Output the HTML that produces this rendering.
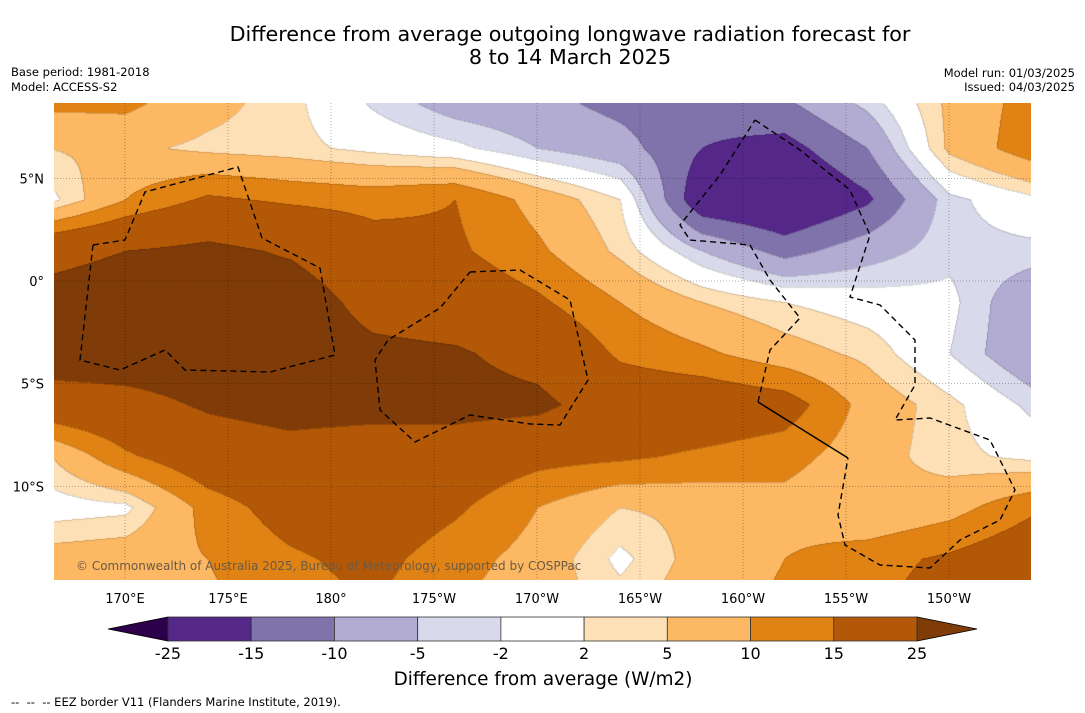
<!DOCTYPE html>
<html><head><meta charset="utf-8"><style>
body{margin:0;background:#fff;width:1085px;height:713px;overflow:hidden;position:relative;font-family:"DejaVu Sans","Liberation Sans",sans-serif}
#map{position:absolute;left:54px;top:103px}
#ov{position:absolute;left:0;top:0}
</style></head><body>
<canvas id="map" width="977" height="477"></canvas>
<svg id="ov" width="1085" height="713" xmlns="http://www.w3.org/2000/svg" font-family="DejaVu Sans, Liberation Sans, sans-serif">
<text x="570" y="41" font-size="20.7" text-anchor="middle">Difference from average outgoing longwave radiation forecast for</text>
<text x="570" y="64" font-size="20.7" text-anchor="middle">8 to 14 March 2025</text>
<text x="11" y="76" font-size="11.5">Base period: 1981-2018</text>
<text x="11" y="91" font-size="11.5">Model: ACCESS-S2</text>
<text x="1075" y="77" font-size="11.5" text-anchor="end">Model run: 01/03/2025</text>
<text x="1075" y="91" font-size="11.5" text-anchor="end">Issued: 04/03/2025</text>
<g id="grid"></g>
<g id="eez" fill="none" stroke="#000" stroke-width="1.4" stroke-dasharray="6,4">
<polyline points="93,245 125,240 145,192 238,167 262,238 320,268 335,355 270,372 185,370 165,350 120,370 80,360 93,245"/>
<polyline points="470,272 520,270 570,300 588,380 560,425 530,424 470,415 415,442 380,410 375,360 388,340 440,308 470,272"/>
<polyline points="755,120 800,150 850,190 870,235 850,297 880,305 915,340 915,385 895,420 930,418 990,440 1015,490 1000,520 960,540 930,568 880,565 845,545 838,515 848,458"/>
<polyline points="758,402 770,350 800,318 770,280 750,245 690,240 680,225 720,175 755,120"/>
<polyline points="758,402 848,458" stroke-dasharray="none"/>
</g>
<text x="76" y="570" font-size="12" fill="#6b5a45">© Commonwealth of Australia 2025, Bureau of Meteorology, supported by COSPPac</text>
<g id="xt" font-size="13" text-anchor="middle"></g>
<g id="yt" font-size="13" text-anchor="end"></g>
<g id="cb"></g>
<text x="543" y="685" font-size="18.4" text-anchor="middle">Difference from average (W/m2)</text>
<text x="11" y="706" font-size="11.5">-- &nbsp;-- &nbsp;-- EEZ border V11 (Flanders Marine Institute, 2019).</text>
</svg>
<script>
// grid longitudes (deg E) and latitudes
const lons=[166,170,174,178,182,186,190,194,198,202,206,210,214];
const lats=[9,6.5,4,1.5,-1,-3.5,-6,-8.5,-11,-13.5,-16];
const row0=[12,12,7,3,-3,-8,-9,-12,-13,-10,-3,6,12];
const row1=[5,6,4,3,1,-1,-5,-8,-15,-17,-10,6,13];
const row2=[0,10,16,14,13,15,8,2,-20,-22,-16,-3,1];
const row3=[22,25,27,24,18,16,11,4,-5,-12,-7,-3,-3];
const row4=[28,30,30,30,22,20,16,10,5,2,0,-1,-9];
const row5=[30,30,30,30,27,26,22,14,11,7,4,-2,-9];
const row6=[20,22,26,28,28,28,27,20,20,18,8,3,-3];
const row7=[4,14,20,22,20,20,17,16,14,12,7,3,1];
const row8=[0,1,12,18,20,16,10,5,6,8,5,8,14];
const row9=[7,8,10,14,17,12,8,1,7,10,13,16,20];
const row10=[8,8,9,12,15,10,7,4,8,11,14,18,26];
const rows=[row0,row1,row2,row3,row4,row5,row6,row7,row8,row9,row10];
const levels=[-25,-15,-10,-5,-2,2,5,10,15,25];
const colors=["#2d004b","#542788","#8073ac","#b2abd2","#d8daeb","#ffffff","#fee0b6","#fdb863","#e08214","#b35806","#7f3b08"];
const levelLabels=["-25","-15","-10","-5","-2","2","5","10","15","25"];
const lonTicks=[170,175,180,185,190,195,200,205,210];
const lonTickLabels=["170°E","175°E","180°","175°W","170°W","165°W","160°W","155°W","150°W"];
const latTicks=[5,0,-5,-10];
const latTickLabels=["5°N","0°","5°S","10°S"];

const X=lon=>125+(lon-170)*20.6;
const Y=lat=>281-lat*20.54;
const NS="http://www.w3.org/2000/svg";
function hex(c){return [1,3,5].map(i=>parseInt(c.substr(i,2),16));}
const rgb=colors.map(hex);
function val(lon,lat){
  let fi=(lon-lons[0])/(lons[1]-lons[0]);
  let fj=(lats[0]-lat)/(lats[0]-lats[1]);
  fi=Math.max(0,Math.min(lons.length-1.001,fi));fj=Math.max(0,Math.min(lats.length-1.001,fj));
  const i=Math.floor(fi),j=Math.floor(fj),a=fi-i,b=fj-j;
  return rows[j][i]*(1-a)*(1-b)+rows[j][i+1]*a*(1-b)+rows[j+1][i]*(1-a)*b+rows[j+1][i+1]*a*b;
}
function bin(v){let k=0;while(k<levels.length&&v>=levels[k])k++;return k;}
const cv=document.getElementById('map'),ctx=cv.getContext('2d');
const img=ctx.createImageData(977,477);
const bins=new Int8Array(977*477);
for(let py=0;py<477;py++)for(let px=0;px<977;px++){
  const lon=170+(px+54-125)/20.6, lat=(281-(py+103))/20.54;
  bins[py*977+px]=bin(val(lon,lat));
}
for(let py=0;py<477;py++)for(let px=0;px<977;px++){
  const k=bins[py*977+px];let c=rgb[k];
  if(px>0&&py>0&&(bins[py*977+px-1]!==k||bins[(py-1)*977+px]!==k))c=c.map(x=>x*0.85);
  const o=(py*977+px)*4;img.data[o]=c[0];img.data[o+1]=c[1];img.data[o+2]=c[2];img.data[o+3]=255;
}
ctx.putImageData(img,0,0);

const g=document.getElementById('grid');
lonTicks.forEach((t,i)=>{
  const l=document.createElementNS(NS,'line');
  l.setAttribute('x1',X(t));l.setAttribute('x2',X(t));l.setAttribute('y1',103);l.setAttribute('y2',580);
  l.setAttribute('stroke','#000');l.setAttribute('stroke-width','0.5');l.setAttribute('stroke-dasharray','1,2');l.setAttribute('opacity','0.6');
  
  
  g.appendChild(l);
  const tx=document.createElementNS(NS,'text');
  tx.setAttribute('x',X(t));tx.setAttribute('y',603);tx.textContent=lonTickLabels[i];
  
  
  document.getElementById('xt').appendChild(tx);
});
latTicks.forEach((t,i)=>{
  const l=document.createElementNS(NS,'line');
  l.setAttribute('x1',54);l.setAttribute('x2',1031);l.setAttribute('y1',Y(t));l.setAttribute('y2',Y(t));
  l.setAttribute('stroke','#000');l.setAttribute('stroke-width','0.5');l.setAttribute('stroke-dasharray','1,2');l.setAttribute('opacity','0.6');
  
  
  g.appendChild(l);
  const tx=document.createElementNS(NS,'text');
  tx.setAttribute('x',44);tx.setAttribute('y',Y(t)+5);tx.textContent=latTickLabels[i];
  
  
  document.getElementById('yt').appendChild(tx);
});
// colorbar
const cb=document.getElementById('cb');
const cx0=168,cw=(917-168)/(levels.length-1),cy=617,ch=24;
function add(tag,attrs,name){const e=document.createElementNS(NS,tag);for(const k in attrs)e.setAttribute(k,attrs[k]);
  
  
  cb.appendChild(e);return e;}
add('polygon',{points:`108,629 ${cx0},${cy} ${cx0},${cy+ch}`,fill:colors[0],stroke:'#000','stroke-width':0.8},'colorbar-min-arrow');
add('polygon',{points:`977,629 917,${cy} 917,${cy+ch}`,fill:colors[colors.length-1],stroke:'#000','stroke-width':0.8},'colorbar-max-arrow');
for(let i=0;i<levels.length-1;i++){
  add('rect',{x:cx0+i*cw,y:cy,width:cw,height:ch,fill:colors[i+1],stroke:'#333','stroke-width':0.8},'colorbar-bin');
}
levelLabels.forEach((s,i)=>{
  const t=add('text',{x:cx0+i*cw,y:659,'font-size':16,'text-anchor':'middle'},'colorbar-label');t.textContent=s;
});
</script>
</body></html>
